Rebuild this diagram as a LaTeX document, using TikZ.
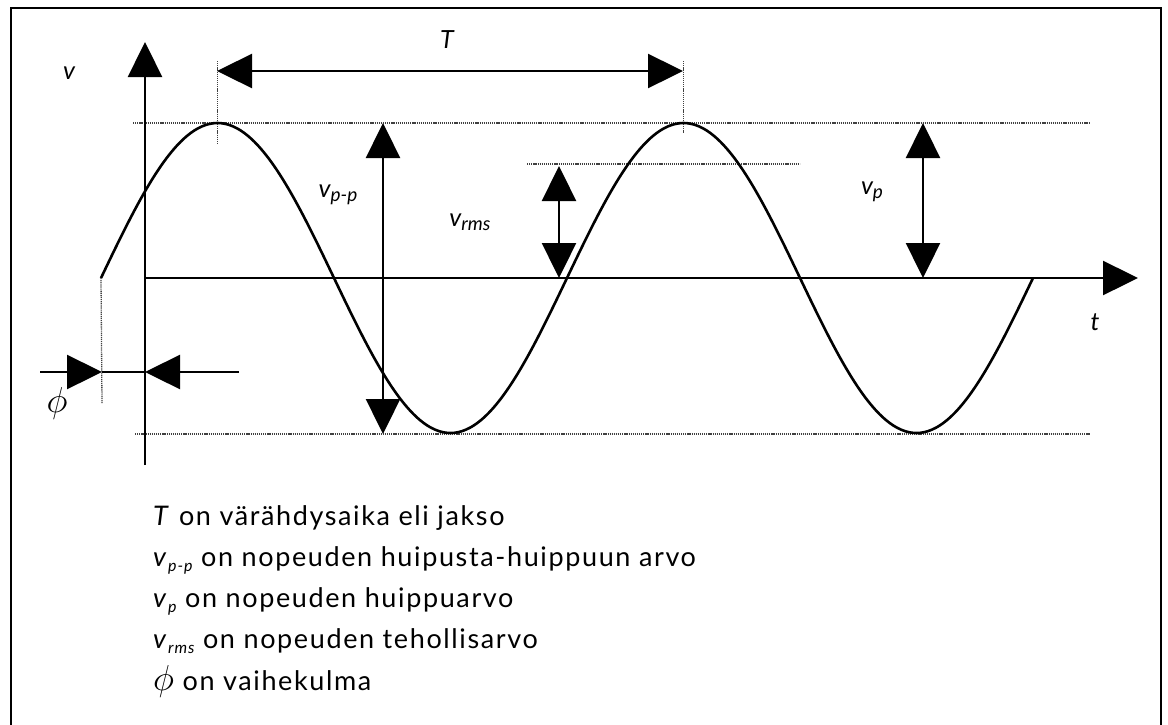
\documentclass[tikz,border=0pt]{standalone}
\usepackage{fontspec}
\usepackage{graphicx}
\setmainfont{Lato}
\newfontfamily\legfont[LetterSpace=6]{Lato}
\usetikzlibrary{arrows.meta}
\newcommand\sub[1]{\raisebox{-0.35ex}{\fontsize{19}{22}\selectfont\itshape #1}}
\newcommand\lsub[1]{\raisebox{-0.4ex}{\fontsize{16}{18}\selectfont\itshape #1}}
\newcommand\bigphi{\scalebox{1.45}{$\phi$}}
\begin{document}
\begin{tikzpicture}[x=1pt,y=-1pt,
  ln/.style={line width=2.4pt},
  arr/.style={ln,-{Triangle[length=35pt,width=34pt]}},
  dbl/.style={ln,{Triangle[length=35pt,width=34pt]}-{Triangle[length=35pt,width=34pt]}},
  guide/.style={line width=1.3pt, black!75, dash pattern=on 1.2pt off 0.9pt},
  lbl/.style={font=\fontsize{25}{30}\selectfont\itshape, inner sep=0pt},
  legend/.style={anchor=base west, font=\legfont\fontsize{27}{32}\selectfont, inner sep=0pt}]
\useasboundingbox (0,0) rectangle (1168,724);
% frame
\draw[line width=2.4pt] (11,726) -- (11,8) -- (1161,8) -- (1161,726);
% coordinates
\coordinate (O) at (145,278);
\coordinate (vtop) at (145,42);
\coordinate (vbot) at (145,465);
\coordinate (tend) at (1138,278);
\coordinate (s0) at (101,278);
\coordinate (pk1) at (217,123);
\coordinate (pk2) at (683,123);
% guides
\draw[guide] (133,123) -- (1090,123);
\draw[guide] (135,434) -- (1090,434);
\draw[guide] (527,164) -- (800,164);
\draw[guide,line width=0.9pt] (217,61) -- (217,143);
\draw[guide,line width=0.9pt] (683,61) -- (683,133);
\draw[guide] (s0) -- (102,403);
% axes
\draw[arr] (vbot) -- (vtop);
\draw[arr] (O) -- (tend);
% wave
\draw[line width=2.6pt] plot[domain=0:720,samples=241,smooth] ({101+1.294444*\x},{278-155*sin(\x)});
% period
\coordinate (Ta) at (217,71);
\coordinate (Tb) at (683,71);
\draw[dbl] (Ta) -- (Tb);
% v_pp
\coordinate (ppa) at (383,123);
\coordinate (ppb) at (383,434);
\draw[dbl] (ppa) -- (ppb);
% v_rms
\coordinate (rma) at (559,166);
\coordinate (rmb) at (559,278);
\draw[dbl] (rma) -- (rmb);
% v_p
\coordinate (pa) at (923,123);
\coordinate (pb) at (923,278);
\draw[dbl] (pa) -- (pb);
% phase
\coordinate (ph0) at (40,372);
\coordinate (ph1) at (102,372);
\coordinate (ph2) at (145,372);
\coordinate (ph3) at (239,372);
\draw[arr] (ph0) -- (ph1);
\draw[ln] (ph1) -- (ph2);
\draw[arr] (ph3) -- (ph2);
% labels
\node[lbl] (vlab) at (69,73) {v};
\node[lbl] (Tlab) at (447,40) {T};
\node[lbl] (tlab) at (1095,322) {t};
\node[lbl] (vpplab) at (338,195) {v\sub{p-p}};
\node[lbl] (vrmslab) at (470,222) {v\sub{rms}};
\node[lbl] (vplab) at (872,192) {v\sub{p}};
\node[inner sep=0pt, font=\fontsize{25}{30}\selectfont] (philab) at (57,403) {\bigphi};
% legend
\node[legend] (l1) at (153,525) {\textit{T} on värähdysaika eli jakso};
\node[legend] (l2) at (153,566) {\textit{v}\lsub{p-p} on nopeuden huipusta-huippuun arvo};
\node[legend] (l3) at (153,607) {\textit{v}\lsub{p} on nopeuden huippuarvo};
\node[legend] (l4) at (153,648) {\textit{v}\lsub{rms} on nopeuden tehollisarvo};
\node[legend] (l5) at (153,690) {{\fontsize{25}{30}\selectfont\bigphi} on vaihekulma};
\end{tikzpicture}
\end{document}
